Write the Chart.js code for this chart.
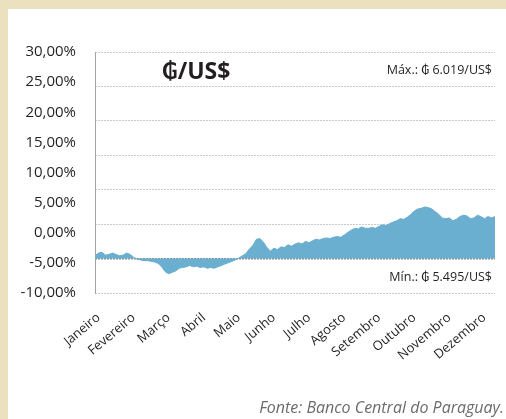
<!DOCTYPE html>
<html lang="pt">
<head>
<meta charset="utf-8">
<title>₲/US$</title>
<script src="https://cdn.jsdelivr.net/npm/chart.js"></script>
<style>
	body{ margin:0; background:#ebe1bf; width:506px; height:419px; overflow:hidden;}
	.panel{ position:absolute; left:8px; top:9px; width:498px; height:410px; background:#fff;}
	#myChart{ position:absolute; left:0; top:0;}
</style>
</head>
<body>
<div class="panel"></div>
<canvas id="myChart" width="506" height="419"></canvas>
<script>
// meses (rótulos do eixo x)
const months = ['Janeiro','Fevereiro','Março','Abril','Maio','Junho','Julho','Agosto','Setembro','Outubro','Novembro','Dezembro'];
// posição (índice da série) de cada rótulo de mês
const monthPos = [1, 11, 21, 31, 41, 51, 61, 71, 81, 91, 101, 111];
// rótulos do eixo y
const yTickValues = [-10, -5, 0, 5, 10, 15, 20, 25, 30];
const yTickLabels = ['-10,00%','-5,00%','0,00%','5,00%','10,00%','15,00%','20,00%','25,00%','30,00%'];
// variação (%) do guarani frente ao dólar
const variation = [
	0.4, 0.8, 0.9, 0.5, 0.6, 0.8, 0.6, 0.4, 0.5, 0.8,
	0.6, 0.2, -0.1, -0.2, -0.3, -0.3, -0.4, -0.5, -0.7, -1.2,
	-1.9, -2.2, -2.0, -1.8, -1.4, -1.3, -1.2, -1.0, -1.2, -1.1,
	-1.3, -1.2, -1.4, -1.3, -1.4, -1.2, -1.0, -0.8, -0.6, -0.4,
	-0.2, 0.1, 0.4, 0.7, 1.4, 1.9, 2.8, 2.9, 2.4, 1.6,
	1.1, 1.5, 1.3, 1.7, 1.6, 2.0, 1.8, 2.1, 2.3, 2.1,
	2.5, 2.3, 2.6, 2.8, 2.7, 2.9, 3.0, 2.9, 3.1, 3.2,
	3.1, 3.4, 3.8, 4.1, 4.4, 4.3, 4.6, 4.4, 4.4, 4.5,
	4.4, 4.7, 4.9, 4.8, 5.1, 5.3, 5.5, 5.8, 5.7, 6.0,
	6.4, 6.9, 7.2, 7.3, 7.5, 7.4, 7.2, 6.8, 6.4, 5.9,
	5.8, 5.9, 5.5, 5.7, 6.1, 6.3, 6.2, 5.8, 5.9, 6.3,
	6.1, 5.8, 6.1, 5.9, 6.1
];

const labels = variation.map(function(v, i){
	let k = monthPos.indexOf(i);
	return k >= 0 ? months[k] : '';
});

const FONT = "'Open Sans', 'DejaVu Sans', sans-serif";

// textos dentro do gráfico
const textPlugin = {
	id: 'texts',
	afterDraw: function(chart){
		const c = chart.ctx;
		c.save();
		c.fillStyle = '#231f20';
		c.textBaseline = 'middle';
		c.font = "bold 23px " + FONT;
		c.textAlign = 'center';
		c.fillText('₲/US$', 196, 72);
		c.font = "12.5px " + FONT;
		c.textAlign = 'right';
		c.fillText('Máx.: ₲ 6.019/US$', 492, 70);
		c.fillText('Mín.: ₲ 5.495/US$', 492, 277);
		c.font = "italic 16px " + FONT;
		c.fillStyle = '#6b6b6b';
		c.fillText('Fonte: Banco Central do Paraguay.', 504, 408);
		c.restore();
	}
};

const config = {
	type: 'line',
	data: {
		labels: labels,
		datasets: [{
			data: variation,
			yAxisID: 'y',
			fill: { value: 0 },
			backgroundColor: '#6aaed0',
			borderColor: '#6aaed0',
			borderWidth: 1,
			pointRadius: 0,
			tension: 0
		}]
	},
	options: {
		responsive: false,
		animation: false,
		layout: { padding: { left: 0, right: 11, top: 52, bottom: 0 } },
		plugins: { legend: { display: false }, tooltip: { enabled: false } },
		scales: {
			x: {
				grid: { display: false },
				border: { display: false },
				ticks: {
					autoSkip: false,
					maxRotation: 40,
					minRotation: 40,
					padding: 9,
					color: '#231f20',
					font: { family: FONT, size: 13 }
				},
				afterFit: function(s){
					s.height = 126;
					s.paddingLeft = 0;
					s.paddingRight = 0;
				}
			},
			yl: {
				position: 'left',
				min: -10,
				max: 30,
				afterBuildTicks: function(s){ s.ticks = yTickValues.map(function(v){ return { value: v }; }); },
				grid: { display: false },
				border: { display: true, color: '#a3a3a3', width: 1 },
				ticks: {
					padding: 11,
					color: '#231f20',
					font: { family: FONT, size: 15 },
					callback: function(v){ return yTickLabels[yTickValues.indexOf(v)]; }
				},
				afterFit: function(s){ s.width = 95; }
			},
			y: {
				position: 'right',
				min: -5,
				max: 30,
				ticks: { display: false, stepSize: 5 },
				grid: {
					drawTicks: false,
					color: function(ctx){ return ctx.tick && ctx.tick.value === 0 ? '#8a8a8a' : '#c9c9c9'; },
					lineWidth: function(ctx){ return ctx.tick && ctx.tick.value === 0 ? 1.5 : 1; }
				},
				border: { display: false, dash: [2, 1] },
				afterFit: function(s){ s.width = 0; }
			}
		}
	},
	plugins: [textPlugin]
};

var myChart = new Chart(document.getElementById('myChart'), config);
</script>
</body>
</html>
